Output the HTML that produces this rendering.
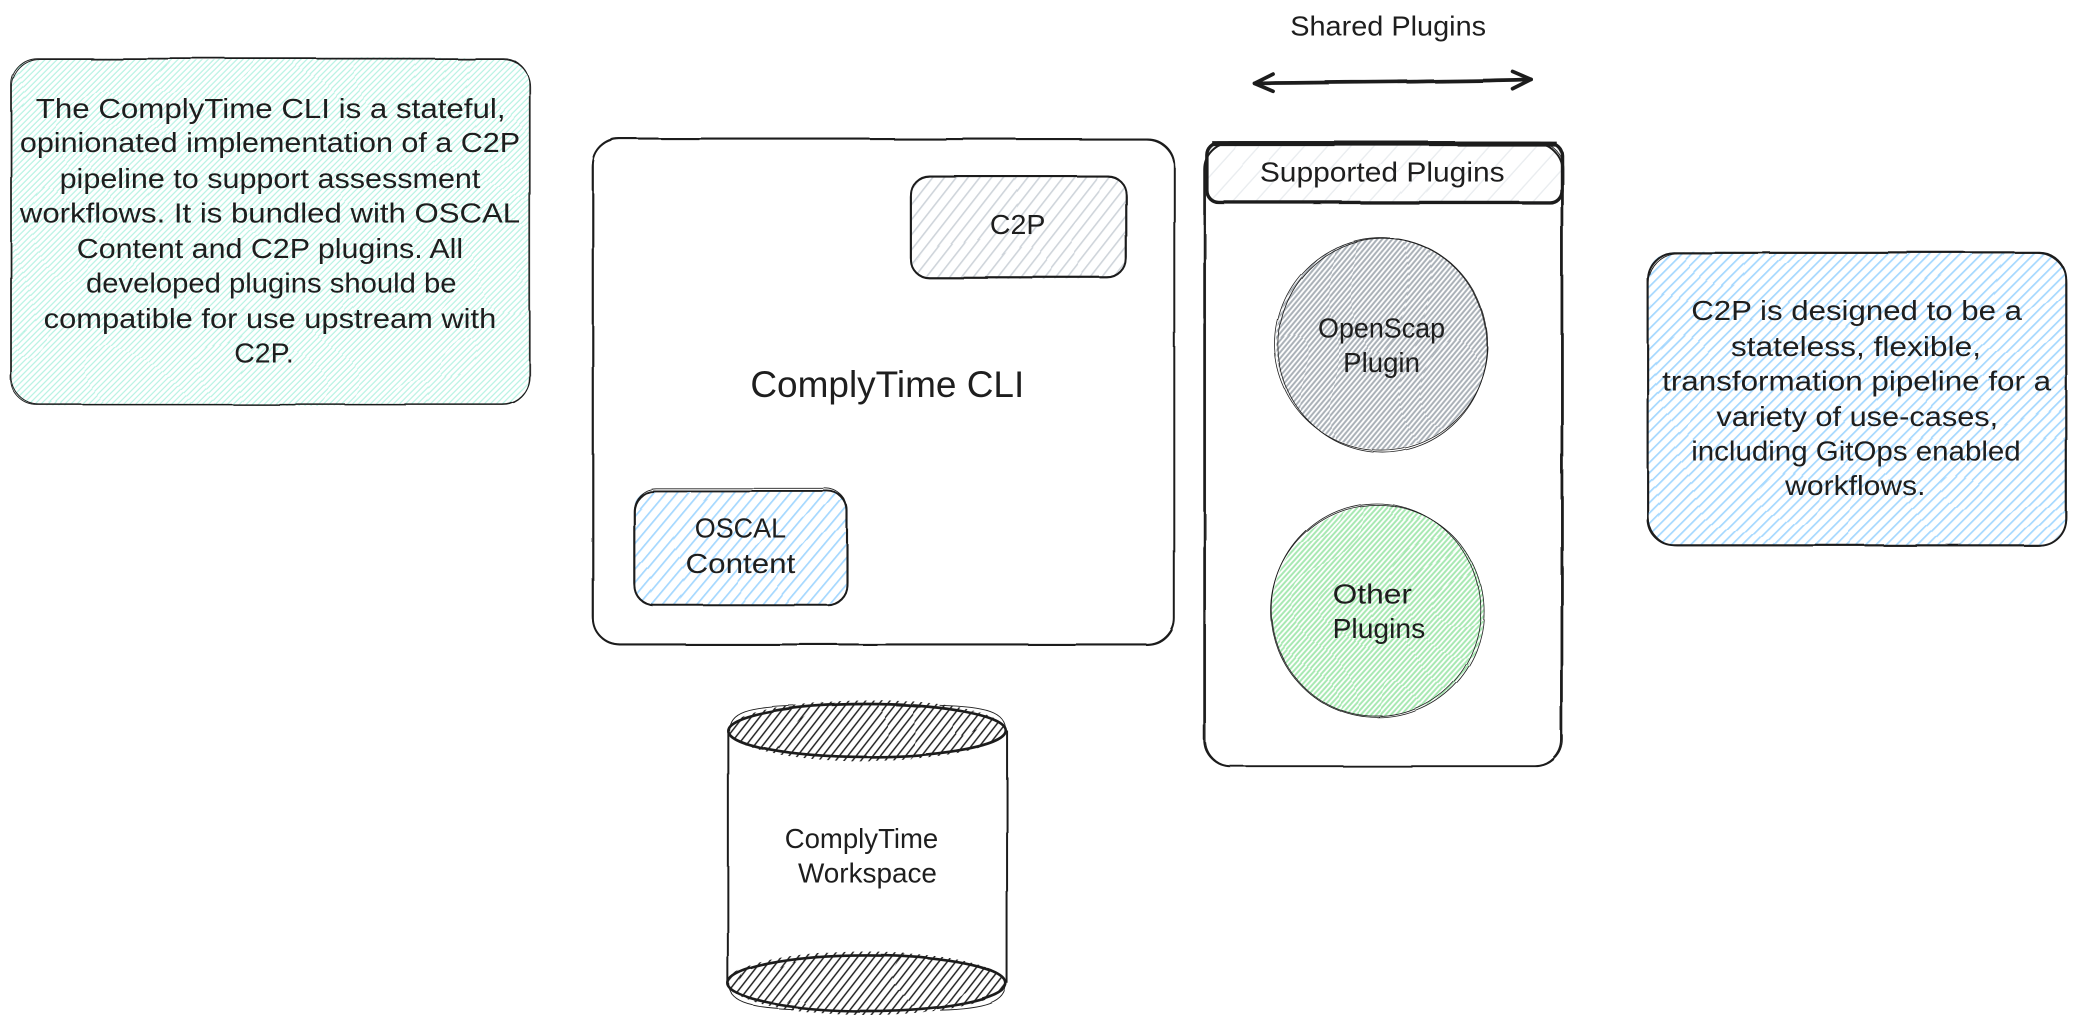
<!DOCTYPE html>
<html>
<head>
<meta charset="utf-8">
<style>
html,body{margin:0;padding:0;background:#fff;width:2075px;height:1020px;overflow:hidden}
svg{display:block}
text{font-family:"Liberation Sans",sans-serif;fill:#1e1e1e;font-size:21px;text-anchor:start}
.s{fill:none;stroke:#1e1e1e;stroke-width:1.5}
.t{fill:none;stroke:#1e1e1e;stroke-width:.7}
</style>
</head>
<body>
<svg width="2075" height="1020" viewBox="0 0 1568 770.8" xmlns="http://www.w3.org/2000/svg">
<defs>
<filter id="w" x="-5%" y="-5%" width="110%" height="110%"><feTurbulence type="fractalNoise" baseFrequency="0.012" numOctaves="2" seed="4"/><feDisplacementMap in="SourceGraphic" scale="2.500"/></filter>
<filter id="h" x="-5%" y="-5%" width="110%" height="110%"><feTurbulence type="fractalNoise" baseFrequency="0.012" numOctaves="1" seed="9"/><feDisplacementMap in="SourceGraphic" scale="3"/></filter>
<pattern id="pMint" width="3.200" height="3.200" patternUnits="userSpaceOnUse" patternTransform="rotate(-45)"><line x1="0" y1="1" x2="3.200" y2="1" stroke="#b5f2e2" stroke-width=".9"/></pattern>
<pattern id="pBlue" width="5.500" height="5.500" patternUnits="userSpaceOnUse" patternTransform="rotate(-45)"><line x1="0" y1="1" x2="5.500" y2="1" stroke="#a5d8ff" stroke-width="1.300"/></pattern>
<pattern id="pBlue2" width="6.500" height="6.500" patternUnits="userSpaceOnUse" patternTransform="rotate(-50)"><line x1="0" y1="1" x2="6.500" y2="1" stroke="#a5d8ff" stroke-width="1.300"/></pattern>
<pattern id="pGray" width="7" height="7" patternUnits="userSpaceOnUse" patternTransform="rotate(-52)"><line x1="0" y1="1" x2="7" y2="1" stroke="#ced4da" stroke-width="1.200"/></pattern>
<pattern id="pHead" width="13" height="13" patternUnits="userSpaceOnUse" patternTransform="rotate(-48)"><line x1="0" y1="1" x2="13" y2="1" stroke="#e9ecef" stroke-width="1"/></pattern>
<pattern id="pCirc" width="2.900" height="2.900" patternUnits="userSpaceOnUse" patternTransform="rotate(-50)"><line x1="0" y1="1" x2="2.900" y2="1" stroke="#a9b0b7" stroke-width="1.500"/></pattern>
<pattern id="pCircG" width="2.900" height="2.900" patternUnits="userSpaceOnUse" patternTransform="rotate(-48)"><line x1="0" y1="1" x2="2.900" y2="1" stroke="#a6e8b1" stroke-width="1.500"/></pattern>
<pattern id="pBlack" width="5" height="5" patternUnits="userSpaceOnUse" patternTransform="rotate(-52)"><line x1="0" y1="1" x2="5" y2="1" stroke="#1e1e1e" stroke-width="1.100"/></pattern>
</defs>

<g filter="url(#h)">
<rect x="8" y="44" width="392" height="262" rx="20" fill="url(#pMint)"/>
<rect x="1245" y="191" width="316" height="221" rx="20" fill="url(#pBlue)"/>
<rect x="688" y="133" width="163" height="77" rx="14" fill="url(#pGray)"/>
<rect x="479" y="371" width="161" height="86" rx="15" fill="url(#pBlue2)"/>
<rect x="912" y="108" width="268" height="45" rx="9" fill="url(#pHead)"/>
<circle cx="1044" cy="260" r="80" fill="url(#pCirc)"/>
<circle cx="1041" cy="462" r="80" fill="url(#pCircG)"/>
<ellipse cx="655" cy="552" rx="105" ry="23" fill="url(#pBlack)"/>
<ellipse cx="655" cy="743" rx="105" ry="24" fill="url(#pBlack)"/>
</g>

<g filter="url(#w)">
<rect class="t" x="8" y="44" width="392" height="262" rx="20"/>
<rect class="t" x="8.600" y="44.600" width="392" height="261" rx="21"/>
<rect class="s" x="448" y="105" width="439" height="382" rx="20"/>
<rect class="t" x="447.500" y="105.500" width="439.500" height="381" rx="21"/>
<rect class="s" x="688" y="133" width="163" height="77" rx="14"/>
<rect class="t" x="687.500" y="133.500" width="164" height="76" rx="15"/>
<rect class="s" x="479" y="371" width="161" height="86" rx="15"/>
<rect class="t" x="478.500" y="369" width="162" height="88" rx="17"/>
<rect class="s" x="910" y="108" width="270" height="471" rx="20"/>
<rect class="t" x="911" y="107" width="270" height="472" rx="20"/>
<rect x="912" y="108" width="268" height="45" rx="9" fill="none" stroke="#1e1e1e" stroke-width="2.600"/>
<path d="M916 108.500H1176" stroke="#1e1e1e" stroke-width="3.800" fill="none"/>
<circle cx="1044" cy="260" r="80.500" fill="none" stroke="#1e1e1e" stroke-width=".6"/>
<ellipse cx="1045" cy="261" rx="79" ry="81" fill="none" stroke="#1e1e1e" stroke-width=".6"/>
<circle cx="1041" cy="462" r="80.500" fill="none" stroke="#1e1e1e" stroke-width=".6"/>
<ellipse cx="1040" cy="461" rx="79" ry="80.500" fill="none" stroke="#1e1e1e" stroke-width=".6"/>
<rect class="s" x="1245" y="191" width="316" height="221" rx="20"/>
<rect class="t" x="1245.500" y="191.500" width="316" height="221" rx="22"/>
<path class="t" d="M551 552C551 538 565 534 600 533M760 552C760 538 745 534 710 533M551 743C551 757 565 762 600 763M760 743C760 757 745 762 710 763"/>
<path class="s" d="M550 552V743M761 552V743" stroke-width="1.100"/>
<ellipse cx="655" cy="552" rx="105" ry="20" fill="none" stroke="#1e1e1e" stroke-width="2"/>
<ellipse cx="655" cy="743" rx="105" ry="21" fill="none" stroke="#1e1e1e" stroke-width="2"/>
<path d="M948 63C1010 62 1100 62 1157 60" fill="none" stroke="#1e1e1e" stroke-width="2.800" stroke-linecap="round"/>
<path d="M962 56L948 63L962 69M1143 54L1157 60L1143 67" fill="none" stroke="#1e1e1e" stroke-width="2.800" stroke-linecap="round" stroke-linejoin="round"/>
</g>

<text x="27" y="89" textLength="355" lengthAdjust="spacingAndGlyphs">The ComplyTime CLI is a stateful,</text>
<text x="15" y="115" textLength="378" lengthAdjust="spacingAndGlyphs">opinionated implementation of a C2P</text>
<text x="45" y="142" textLength="318" lengthAdjust="spacingAndGlyphs">pipeline to support assessment</text>
<text x="15" y="168" textLength="378" lengthAdjust="spacingAndGlyphs">workflows. It is bundled with OSCAL</text>
<text x="58" y="195" textLength="292" lengthAdjust="spacingAndGlyphs">Content and C2P plugins. All</text>
<text x="65" y="221" textLength="280" lengthAdjust="spacingAndGlyphs">developed plugins should be</text>
<text x="33" y="248" textLength="342" lengthAdjust="spacingAndGlyphs">compatible for use upstream with</text>
<text x="177" y="274" textLength="45" lengthAdjust="spacingAndGlyphs">C2P.</text>

<text x="567" y="300" textLength="207" lengthAdjust="spacingAndGlyphs" style="font-size:28px">ComplyTime CLI</text>
<text x="748" y="177" textLength="42" lengthAdjust="spacingAndGlyphs">C2P</text>
<text x="525" y="406" textLength="69" lengthAdjust="spacingAndGlyphs">OSCAL</text>
<text x="518" y="433" textLength="83" lengthAdjust="spacingAndGlyphs">Content</text>
<text x="975" y="27" textLength="148" lengthAdjust="spacingAndGlyphs">Shared Plugins</text>
<text x="952" y="137" textLength="185" lengthAdjust="spacingAndGlyphs">Supported Plugins</text>
<text x="996" y="255" textLength="96" lengthAdjust="spacingAndGlyphs">OpenScap</text>
<text x="1015" y="281" textLength="58" lengthAdjust="spacingAndGlyphs">Plugin</text>
<text x="1007" y="456" textLength="60" lengthAdjust="spacingAndGlyphs">Other</text>
<text x="1007" y="482" textLength="70" lengthAdjust="spacingAndGlyphs">Plugins</text>
<text x="593" y="641" textLength="116" lengthAdjust="spacingAndGlyphs">ComplyTime</text>
<text x="603" y="667" textLength="105" lengthAdjust="spacingAndGlyphs">Workspace</text>

<text x="1278" y="242" textLength="250" lengthAdjust="spacingAndGlyphs">C2P is designed to be a</text>
<text x="1308" y="269" textLength="189" lengthAdjust="spacingAndGlyphs">stateless, flexible,</text>
<text x="1256" y="295" textLength="294" lengthAdjust="spacingAndGlyphs">transformation pipeline for a</text>
<text x="1297" y="322" textLength="213" lengthAdjust="spacingAndGlyphs">variety of use-cases,</text>
<text x="1278" y="348" textLength="249" lengthAdjust="spacingAndGlyphs">including GitOps enabled</text>
<text x="1349" y="374" textLength="106" lengthAdjust="spacingAndGlyphs">workflows.</text>
</svg>
</body>
</html>
